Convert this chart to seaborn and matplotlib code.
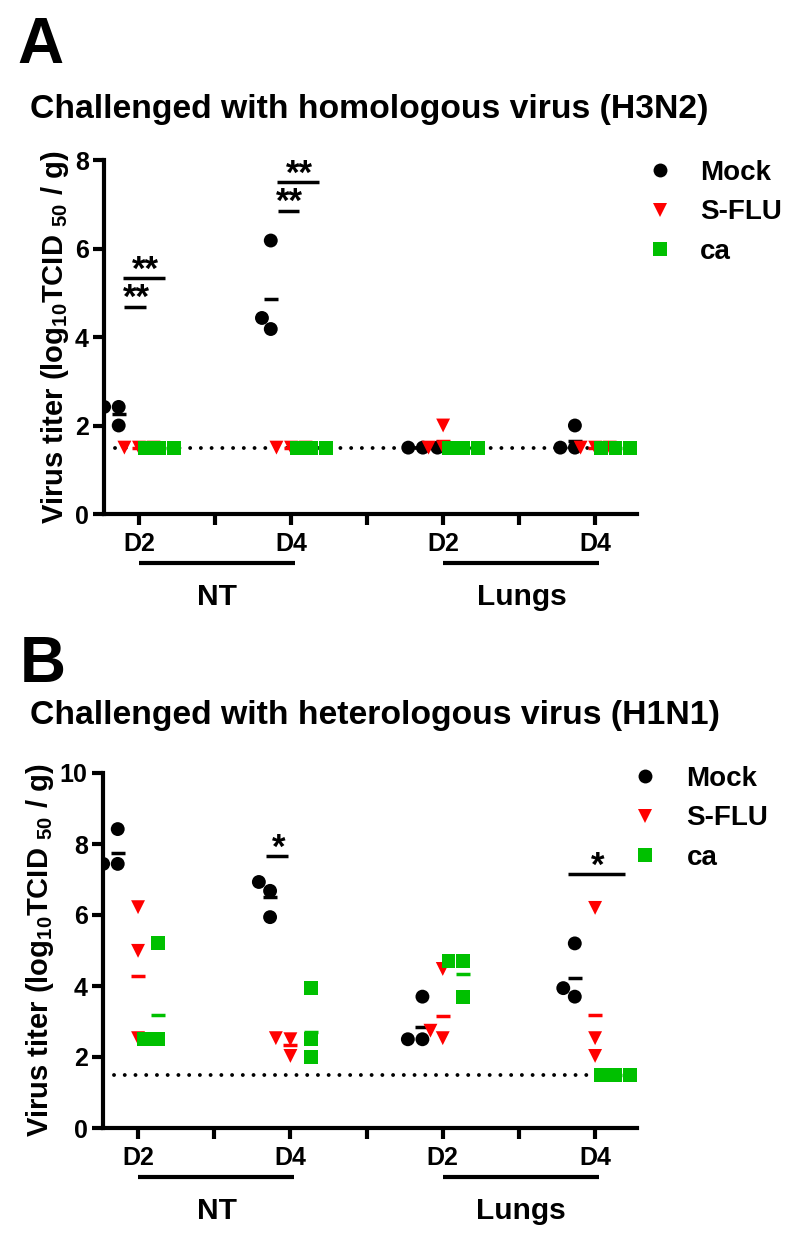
import numpy as np
import pandas as pd
import matplotlib
matplotlib.use("Agg")
import matplotlib.pyplot as plt
from matplotlib.lines import Line2D
import seaborn as sns

# groups and categorical slots (odd slots are empty spacers, like the GraphPad layout)
groups = ["Mock", "S-FLU", "ca"]
colors = {"Mock": "#000000", "S-FLU": "#ff0000", "ca": "#00c000"}
markers = {"Mock": "o", "S-FLU": "v", "ca": "s"}
slots = ["NT D2", "gap1", "NT D4", "gap2", "Lungs D2", "gap3", "Lungs D4"]
slot_labels = ["D2", "", "D4", "", "D2", "", "D4"]
data_slots = ["NT D2", "NT D4", "Lungs D2", "Lungs D4"]
tissues = ["NT", "Lungs"]

# panel A - homologous virus (H3N2), log10 TCID50/g
a_mock = [[2.42, 2.42, 2.0], [6.18, 4.18, 4.43], [1.5, 1.5, 1.5], [2.0, 1.5, 1.5]]
a_sflu = [[1.5, 1.5, 1.5], [1.5, 1.5, 1.5], [2.0, 1.5, 1.5], [1.5, 1.5, 1.5]]
a_ca = [[1.5, 1.5, 1.5], [1.5, 1.5, 1.5], [1.5, 1.5, 1.5], [1.5, 1.5, 1.5]]

# panel B - heterologous virus (H1N1)
b_mock = [[8.42, 7.44, 7.44], [6.93, 6.68, 5.94], [3.7, 2.5, 2.5], [5.2, 3.7, 3.94]]
b_sflu = [[6.22, 4.99, 2.53], [2.53, 2.03, 2.5], [4.48, 2.53, 2.74], [6.2, 2.53, 2.03]]
b_ca = [[5.2, 2.5, 2.5], [3.94, 2.0, 2.5], [4.7, 4.7, 3.7], [1.5, 1.5, 1.5]]

detection_limit = 1.5

# significance bars: (x start, x end, y, label)
a_sig = [(-0.2, 0.09, 4.68, "**"), (-0.21, 0.34, 5.33, "**"),
         (1.83, 2.1, 6.85, "**"), (1.82, 2.37, 7.5, "**")]
b_sig = [(1.68, 1.97, 7.66, "*"), (5.64, 6.39, 7.15, "*")]


def long_table(mock, sflu, ca):
    rows = []
    for g, per_slot in zip(groups, [mock, sflu, ca]):
        for slot, vals in zip(data_slots, per_slot):
            for v in vals:
                rows.append((slot, g, v))
    return pd.DataFrame(rows, columns=["slot", "group", "titer"])


def gmean(v):
    return float(np.exp(np.mean(np.log(v))))


def draw_panel(ax, df, ymax, sig):
    for g in groups:
        sns.swarmplot(data=df[df["group"] == g], x="slot", y="titer", hue="group",
                      order=slots, hue_order=groups, palette=colors, dodge=True,
                      marker=markers[g], size=10, linewidth=0, legend=False,
                      warn_thresh=1, ax=ax)
    sns.pointplot(data=df, x="slot", y="titer", hue="group", order=slots,
                  hue_order=groups, palette=colors, estimator=gmean, errorbar=None,
                  dodge=0.533, markers="_", linestyle="none", markersize=10,
                  markeredgewidth=2.5, legend=False, ax=ax)
    ax.axhline(detection_limit, xmin=0.02, color="black", lw=2.8,
               linestyle=(0, (0.01, 2.75)), dash_capstyle="round", zorder=0)

    ax.set_xlim(-0.46, 6.55)
    ax.set_ylim(0, ymax)
    ax.set_yticks(np.arange(0, ymax + 1, 2))
    ax.set_xticks(range(len(slots)))
    ax.set_xticklabels(slot_labels)
    ax.set_xlabel("")
    ax.set_ylabel(r"Virus titer (log$_{10}$TCID $_{50}$ / g)", fontsize=21,
                  fontweight="bold", labelpad=3)
    sns.despine(ax=ax)
    for s in ["left", "bottom"]:
        ax.spines[s].set_linewidth(3)
    ax.tick_params(axis="both", width=3, length=8, labelsize=18, direction="out")
    ax.tick_params(axis="x", pad=5)
    ax.tick_params(axis="y", pad=3)
    for lab in ax.get_xticklabels() + ax.get_yticklabels():
        lab.set_fontweight("bold")

    for x0, x1, y, lab in sig:
        ax.plot([x0, x1], [y, y], color="black", lw=2.5, solid_capstyle="butt")
        ax.annotate(lab, xy=((x0 + x1) / 2, y), xytext=(1, -1),
                    textcoords="offset points", ha="center", va="baseline",
                    fontsize=25, fontweight="bold")

    trans = ax.get_xaxis_transform()
    for i, t in enumerate(tissues):
        x0 = 4 * i
        ax.plot([x0, x0 + 2.05], [-0.138, -0.138], color="black", lw=3,
                transform=trans, clip_on=False, solid_capstyle="butt")
        ax.text(x0 + 1.03, -0.235, t, transform=trans, ha="center", va="center",
                fontsize=21.5, fontweight="bold")


sns.set_theme(style="ticks")
plt.rcParams["font.family"] = ["Liberation Sans", "DejaVu Sans"]
plt.rcParams["font.weight"] = "bold"
plt.rcParams["mathtext.fontset"] = "custom"
plt.rcParams["mathtext.rm"] = "Liberation Sans:bold"
plt.rcParams["mathtext.bf"] = "Liberation Sans:bold"
plt.rcParams["mathtext.default"] = "bf"
for key in ["axes.edgecolor", "xtick.color", "ytick.color", "text.color",
            "axes.labelcolor", "xtick.labelcolor", "ytick.labelcolor"]:
    plt.rcParams[key] = "black"

W, H = 800, 1240
fig = plt.figure(figsize=(W / 100, H / 100), dpi=100)
axA = fig.add_axes([104 / W, 1 - 514 / H, 533 / W, 354 / H])
axB = fig.add_axes([103 / W, 1 - 1128 / H, 534 / W, 355 / H])

df_a = long_table(a_mock, a_sflu, a_ca)
df_b = long_table(b_mock, b_sflu, b_ca)

draw_panel(axA, df_a, 8, a_sig)
draw_panel(axB, df_b, 10, b_sig)

handles = [Line2D([], [], marker=markers[g], color=colors[g], linestyle="none",
                  markersize=10, markeredgewidth=0) for g in groups]
leg_kw = dict(frameon=False, handlelength=1.0, borderpad=0, borderaxespad=0,
              labelspacing=0.48, prop={"size": 20, "weight": "bold"})
fig.legend(handles, groups, loc="upper left", bbox_to_anchor=(646 / W, 1 - 160 / H),
           handletextpad=0.94, **leg_kw)
fig.legend(handles, groups, loc="upper left", bbox_to_anchor=(631 / W, 1 - 766 / H),
           handletextpad=1.0, **leg_kw)

fig.text(17 / W, 1 - 63 / H, "A", fontsize=46, fontweight="bold", va="baseline")
fig.text(30 / W, 1 - 118 / H, "Challenged with homologous virus (H3N2)",
         fontsize=24.3, fontweight="bold", va="baseline")
fig.text(20 / W, 1 - 682 / H, "B", fontsize=46, fontweight="bold", va="baseline")
fig.text(30 / W, 1 - 724 / H, "Challenged with heterologous virus (H1N1)",
         fontsize=24.3, fontweight="bold", va="baseline")

fig.savefig("out.png", dpi=100)
